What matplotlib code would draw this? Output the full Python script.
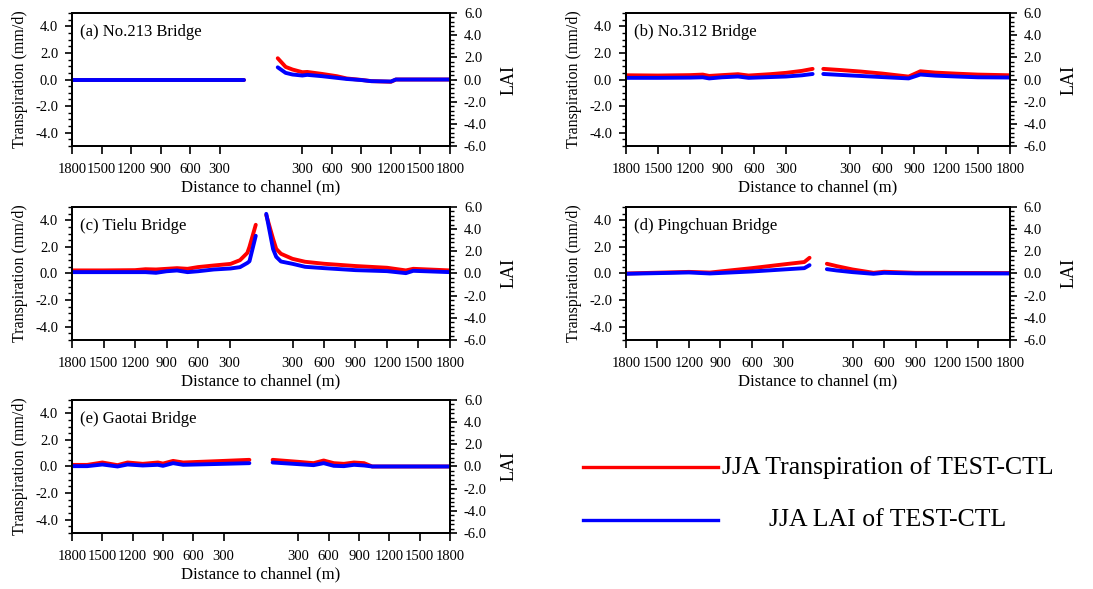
import numpy as np
import matplotlib.pyplot as plt
from matplotlib.ticker import MultipleLocator
from matplotlib.lines import Line2D

plt.rcParams['font.family'] = ['Liberation Serif', 'DejaVu Serif']

# distance (m) from the channel, left bank (l) and right bank (r)
# (a) No.213 Bridge
a_dist_l = [50, 1800]
a_trans_l = [0.0, 0.0]
a_lai_l = [0.0, 0.0]
a_dist_r = [50, 130, 200, 300, 350, 500, 650, 750, 900, 1000, 1200, 1250, 1800]
a_trans_r = [1.6, 0.95, 0.75, 0.55, 0.57, 0.42, 0.25, 0.08, -0.03, -0.12, -0.17, 0.0, 0.0]
a_lai_r = [1.1, 0.6, 0.45, 0.36, 0.42, 0.3, 0.15, 0.05, -0.05, -0.15, -0.18, 0.0, 0.0]

# (b) No.312 Bridge
b_dist_l = [50, 150, 300, 450, 650, 750, 900, 1020, 1080, 1200, 1500, 1800]
b_trans_l = [0.8, 0.65, 0.5, 0.4, 0.3, 0.4, 0.33, 0.27, 0.37, 0.33, 0.3, 0.32]
b_lai_l = [0.5, 0.38, 0.27, 0.22, 0.15, 0.27, 0.2, 0.1, 0.2, 0.17, 0.15, 0.15]
b_dist_r = [50, 200, 400, 600, 850, 960, 1100, 1300, 1500, 1800]
b_trans_r = [0.8, 0.72, 0.6, 0.45, 0.22, 0.62, 0.52, 0.44, 0.37, 0.32]
b_lai_r = [0.5, 0.42, 0.32, 0.22, 0.1, 0.45, 0.35, 0.27, 0.2, 0.18]

# (c) Tielu Bridge
c_dist_l = [50, 110, 130, 200, 290, 450, 600, 700, 800, 900, 1000, 1100, 1200, 1500, 1800]
c_trans_l = [3.66, 2.0, 1.55, 1.0, 0.72, 0.6, 0.48, 0.35, 0.4, 0.35, 0.3, 0.32, 0.25, 0.23, 0.23]
c_lai_l = [3.4, 1.1, 0.95, 0.57, 0.45, 0.36, 0.2, 0.12, 0.27, 0.2, 0.06, 0.12, 0.12, 0.12, 0.12]
c_dist_r = [50, 115, 145, 190, 300, 420, 600, 900, 1200, 1380, 1450, 1800]
c_trans_r = [4.4, 2.6, 1.85, 1.48, 1.1, 0.88, 0.73, 0.56, 0.43, 0.23, 0.35, 0.23]
c_lai_r = [5.38, 2.2, 1.5, 1.08, 0.87, 0.6, 0.48, 0.3, 0.21, 0.03, 0.24, 0.12]

# (d) Pingchuan Bridge
d_dist_l = [50, 100, 300, 600, 1000, 1200, 1800]
d_trans_l = [1.18, 0.86, 0.68, 0.4, 0.07, 0.12, 0.0]
d_lai_l = [0.75, 0.48, 0.36, 0.18, 0.0, 0.09, -0.03]
d_dist_r = [55, 150, 300, 500, 600, 900, 1800]
d_trans_r = [0.73, 0.55, 0.3, 0.05, 0.13, 0.05, 0.03]
d_lai_r = [0.39, 0.27, 0.12, -0.03, 0.06, 0.0, 0.0]

# (e) Gaotai Bridge
e_dist_l = [45, 300, 700, 800, 900, 950, 1100, 1250, 1350, 1500, 1650, 1800]
e_trans_l = [0.5, 0.42, 0.3, 0.42, 0.22, 0.3, 0.2, 0.3, 0.1, 0.3, 0.12, 0.12]
e_lai_l = [0.3, 0.24, 0.15, 0.3, 0.06, 0.15, 0.09, 0.18, 0.0, 0.18, 0.03, 0.03]
e_dist_r = [45, 300, 450, 550, 650, 750, 850, 950, 1030, 1800]
e_trans_r = [0.5, 0.35, 0.25, 0.45, 0.25, 0.2, 0.3, 0.25, 0.0, 0.0]
e_lai_r = [0.36, 0.21, 0.12, 0.3, 0.06, 0.03, 0.15, 0.09, 0.0, 0.0]

titles = ['(a) No.213 Bridge', '(b) No.312 Bridge', '(c) Tielu Bridge',
          '(d) Pingchuan Bridge', '(e) Gaotai Bridge']
# half width of the channel gap on the x axis (m)
gaps = [120, 0, 0, 30, 70]
xticks = [300, 600, 900, 1200, 1500, 1800]


def draw_panel(ax, title, half, dl, tl, ll, dr, tr, lr):
    ax2 = ax.twinx()
    xl = -(np.array(dl) + half)
    xr = np.array(dr) + half
    ax.plot(xl, tl, color='red', lw=2.8, solid_capstyle='round')
    ax.plot(xr, tr, color='red', lw=2.8, solid_capstyle='round')
    ax2.plot(xl, ll, color='blue', lw=2.8, solid_capstyle='round')
    ax2.plot(xr, lr, color='blue', lw=2.8, solid_capstyle='round')

    ax.set_xlim(-(1800 + half), 1800 + half)
    ax.set_ylim(-5, 5)
    ax2.set_ylim(-6, 6)
    pos = [-(t + half) for t in xticks[::-1]] + [t + half for t in xticks]
    ax.set_xticks(pos)
    ax.set_xticklabels([str(t) for t in xticks[::-1]] + [str(t) for t in xticks])
    ax.set_yticks([-4, -2, 0, 2, 4])
    ax.set_yticklabels(['%.1f' % v for v in [-4, -2, 0, 2, 4]])
    ax2.set_yticks([-6, -4, -2, 0, 2, 4, 6])
    ax2.set_yticklabels(['%.1f' % v for v in [-6, -4, -2, 0, 2, 4, 6]])
    ax.yaxis.set_minor_locator(MultipleLocator(0.5))
    ax2.yaxis.set_minor_locator(MultipleLocator(0.4))

    for a in (ax, ax2):
        a.tick_params(axis='both', which='major', direction='out', length=5,
                      width=1.2, labelsize=10.5)
        a.tick_params(axis='y', which='minor', direction='out', length=3, width=1)
        a.tick_params(axis='y', which='major', pad=5)
        for s in a.spines.values():
            s.set_linewidth(1.3)
    ax.tick_params(axis='x', which='major', length=6, pad=6)

    ax.set_xlabel('Distance to channel (m)', fontsize=12, labelpad=3)
    ax.set_ylabel('Transpiration (mm/d)', fontsize=11.5, labelpad=5)
    ax2.set_ylabel('LAI', fontsize=13, labelpad=10)
    ax.text(0.02, 0.86, title, transform=ax.transAxes, fontsize=12,
            va='center', ha='left')


fig = plt.figure(figsize=(10.93, 5.89), dpi=100)
lefts = [0.0659, 0.5727]
widths = [0.3458, 0.3513]
bottoms = [0.7521, 0.4228, 0.0951]
height = 0.2258

data = [
    (a_dist_l, a_trans_l, a_lai_l, a_dist_r, a_trans_r, a_lai_r),
    (b_dist_l, b_trans_l, b_lai_l, b_dist_r, b_trans_r, b_lai_r),
    (c_dist_l, c_trans_l, c_lai_l, c_dist_r, c_trans_r, c_lai_r),
    (d_dist_l, d_trans_l, d_lai_l, d_dist_r, d_trans_r, d_lai_r),
    (e_dist_l, e_trans_l, e_lai_l, e_dist_r, e_trans_r, e_lai_r),
]

for i in range(5):
    col = i % 2
    row = i // 2
    ax = fig.add_axes([lefts[col], bottoms[row], widths[col], height])
    draw_panel(ax, titles[i], gaps[i], *data[i])

# manual legend in the empty bottom-right slot
fig.add_artist(Line2D([0.533, 0.657], [0.207, 0.207], color='red', lw=2.4,
                      transform=fig.transFigure))
fig.add_artist(Line2D([0.533, 0.657], [0.117, 0.117], color='blue', lw=2.4,
                      transform=fig.transFigure))
fig.text(0.8125, 0.207, 'JJA Transpiration of TEST-CTL', fontsize=18.5,
         ha='center', va='center')
fig.text(0.8125, 0.117, 'JJA LAI of TEST-CTL', fontsize=18.5,
         ha='center', va='center')

fig.savefig('out.png', dpi=100)
